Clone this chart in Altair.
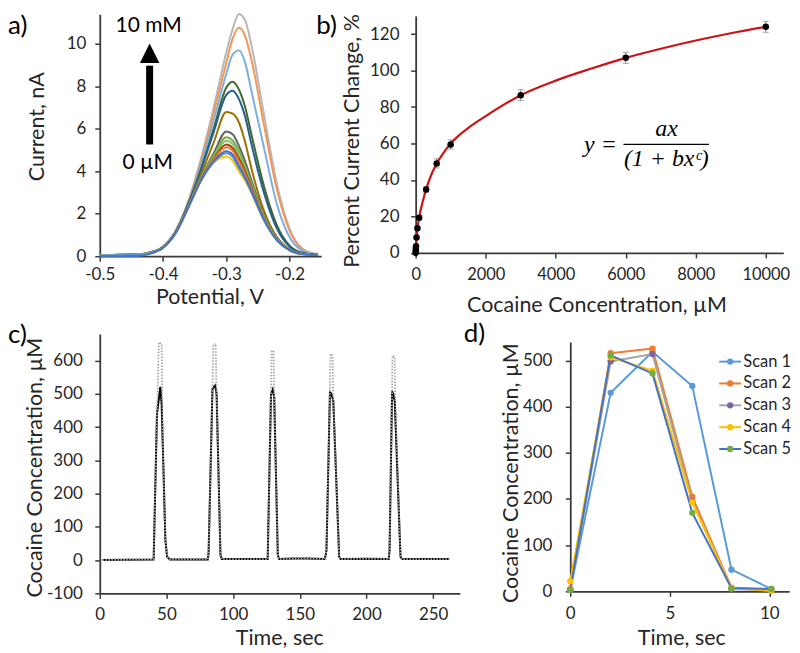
import altair as alt
import pandas as pd

FONT = "Lato"
TXT = "#262626"
AXC = "#3a3a3a"

# ---------------- Panel a: voltammograms ----------------
potential = [-0.50, -0.44, -0.42, -0.40, -0.38, -0.36, -0.34, -0.32, -0.30, -0.29,
             -0.28, -0.27, -0.26, -0.24, -0.22, -0.20, -0.18, -0.16, -0.155]
curve_names = ["s01", "s02", "s03", "s04", "s05", "s06", "s07",
               "s08", "s09", "s10", "s11", "s12", "s13", "s14"]
curve_colors = ["#B7B7B7", "#F1975A", "#7CAFDD", "#43682B", "#255E91", "#997300", "#636363",
                "#70AD47", "#8CC168", "#9E480E", "#ED7D31", "#FFC000", "#5B9BD5", "#4472C4"]
curve_currents = [
    [0.05, 0.08, 0.18, 0.45, 1.20, 2.60, 4.60, 7.00, 9.60, 10.70, 11.42, 11.10, 9.90, 6.60, 3.40, 1.30, 0.36, 0.12, 0.10],
    [0.05, 0.08, 0.18, 0.45, 1.19, 2.57, 4.50, 6.75, 9.12, 10.25, 10.77, 10.36, 9.22, 6.12, 3.14, 1.20, 0.33, 0.11, 0.10],
    [0.05, 0.08, 0.17, 0.44, 1.17, 2.52, 4.33, 6.40, 8.60, 9.50, 9.70, 9.10, 7.75, 5.05, 2.45, 0.90, 0.26, 0.09, 0.08],
    [0.05, 0.08, 0.17, 0.43, 1.15, 2.46, 4.10, 6.00, 7.95, 8.22, 7.85, 7.00, 5.70, 3.25, 1.45, 0.50, 0.16, 0.07, 0.07],
    [0.05, 0.08, 0.17, 0.43, 1.15, 2.44, 4.05, 5.85, 7.60, 7.80, 7.40, 6.55, 5.25, 2.95, 1.30, 0.45, 0.15, 0.07, 0.07],
    [0.05, 0.08, 0.16, 0.42, 1.13, 2.38, 3.85, 5.35, 6.80, 6.72, 6.30, 5.35, 4.10, 2.10, 0.90, 0.33, 0.12, 0.06, 0.06],
    [0.05, 0.08, 0.16, 0.41, 1.12, 2.35, 3.70, 4.85, 5.88, 5.75, 5.20, 4.45, 3.55, 1.90, 0.85, 0.30, 0.11, 0.05, 0.05],
    [0.05, 0.08, 0.15, 0.41, 1.11, 2.34, 3.68, 4.75, 5.60, 5.45, 4.95, 4.25, 3.40, 1.85, 0.82, 0.30, 0.11, 0.05, 0.05],
    [0.05, 0.08, 0.15, 0.41, 1.11, 2.33, 3.66, 4.68, 5.44, 5.28, 4.78, 4.12, 3.30, 1.80, 0.80, 0.29, 0.10, 0.05, 0.05],
    [0.05, 0.08, 0.15, 0.40, 1.11, 2.32, 3.63, 4.60, 5.26, 5.10, 4.60, 3.98, 3.22, 1.76, 0.79, 0.29, 0.10, 0.05, 0.05],
    [0.05, 0.07, 0.15, 0.40, 1.10, 2.32, 3.61, 4.55, 5.13, 4.97, 4.45, 3.85, 3.12, 1.73, 0.78, 0.28, 0.10, 0.05, 0.05],
    [0.05, 0.07, 0.15, 0.40, 1.10, 2.30, 3.55, 4.40, 4.70, 4.50, 4.00, 3.55, 2.95, 1.65, 0.75, 0.28, 0.10, 0.05, 0.05],
    [0.05, 0.07, 0.15, 0.40, 1.10, 2.30, 3.56, 4.43, 4.85, 4.68, 4.15, 3.63, 3.00, 1.68, 0.75, 0.28, 0.10, 0.05, 0.05],
    [0.00, 0.01, 0.12, 0.40, 1.10, 2.31, 3.58, 4.47, 4.94, 4.78, 4.25, 3.70, 3.05, 1.70, 0.76, 0.28, 0.10, 0.05, 0.05],
]

# ---------------- Panel b: calibration ----------------
conc = [0, 1, 5, 10, 25, 50, 100, 300, 600, 1000, 3000, 6000, 10000]
pct_change = [0, 1.0, 2.4, 3.6, 8.4, 13.5, 19.3, 34.8, 49.1, 59.5, 86.5, 107.0, 124.0]
pct_err = [0.3, 0.4, 0.5, 0.6, 0.8, 1.0, 1.2, 1.5, 2.5, 2.5, 3.0, 3.0, 3.0]
fit_x = [0, 20, 50, 100, 200, 300, 450, 600, 800, 1000, 1500, 2000, 3000, 4000,
         5000, 6000, 7000, 8000, 9000, 10000]
fit_y = [0, 6, 13, 19.5, 28, 35, 43, 49, 55, 60, 68.5, 75, 86.5, 94.5,
         101, 107, 112, 116.5, 120.5, 124]

# ---------------- Panel c: time trace ----------------
black_t = [2, 40.4, 42.9, 45.4, 46.4, 49.2, 50.5, 52.5, 70, 81.0, 81.6, 84.5, 86.5, 87.6, 90.5, 91.5,
           110, 125.9, 128.4, 129.7, 130.8, 133.5, 134.5, 145, 155, 168.8, 170.0, 172.6, 173.6, 175.1,
           179.5, 180.5, 200, 216.7, 217.3, 219.2, 220.0, 221.2, 225.5, 226.5, 262]
black_y = [0, 2, 440, 521, 470, 60, 10, 2, 2, 2, 20, 515, 525, 500, 15, 3,
           3, 3, 500, 513, 490, 15, 3, 5, 5, 3, 30, 505, 500, 480,
           10, 3, 4, 3, 30, 507, 500, 478, 10, 3, 3]
gray_t = [2, 40.4, 42.9, 44.3, 46.4, 47.3, 49.2, 50.5, 52.5, 70, 81.0, 81.6, 84.5, 85.1, 86.9, 87.6,
          90.5, 91.5, 110, 125.9, 128.4, 128.9, 130.3, 130.8, 133.5, 134.5, 145, 155, 168.8, 170.0,
          172.6, 173.0, 174.6, 175.1, 179.5, 180.5, 200, 216.7, 217.3, 219.2, 219.5, 221.1, 221.6,
          225.5, 226.5, 262]
gray_y = [0, 2, 440, 655, 650, 340, 60, 10, 2, 2, 2, 20, 515, 648, 650, 500,
          15, 3, 3, 3, 500, 630, 628, 490, 15, 3, 5, 5, 3, 30,
          505, 620, 615, 480, 10, 3, 4, 3, 30, 507, 615, 612, 470,
          10, 3, 3]

# ---------------- Panel d: scans ----------------
scan_t = [0, 2.03, 4.13, 6.13, 8.1, 10.1]
scan_names = ["Scan 1", "Scan 2", "Scan 3", "Scan 4", "Scan 5"]
scan_values = [
    [3, 430, 519, 445, 47, 5],
    [5, 516, 526, 205, 8, 2],
    [3, 498, 514, 195, 5, 2],
    [22, 507, 478, 193, 7, 1],
    [3, 511, 472, 170, 7, 5],
]
scan_line_colors = ["#5B9BD5", "#ED7D31", "#A5A5A5", "#FFC000", "#4472C4"]
scan_marker_colors = ["#5B9BD5", "#ED7D31", "#7E649E", "#FFC000", "#70AD47"]

MINUS_FIX = "replace(datum.label, '\u2212', '-')"


def axis(**kw):
    base = dict(domainColor=AXC, domainWidth=1.8, tickColor=AXC, tickWidth=1.5, tickSize=5,
                labelFont=FONT, labelFontSize=17, labelColor=TXT, labelFlush=False,
                labelOverlap=False, titleFont=FONT, titleFontSize=21.5, titleFontWeight="normal",
                titleColor=TXT, grid=False, titleAlign="center", titleBaseline="middle")
    base.update(kw)
    return alt.Axis(**base)


def label(text, x, y, size=26, align="left", baseline="top", font=FONT, style="normal", color="black"):
    return alt.Chart(pd.DataFrame({"t": [text]})).mark_text(
        align=align, baseline=baseline, font=font, fontSize=size, fontStyle=style, color=color
    ).encode(text="t:N", x=alt.value(x), y=alt.value(y))


# ---- panel a ----
rows = []
for name, vals in zip(curve_names, curve_currents):
    for v, c in zip(potential, vals):
        rows.append({"V": v, "I": c, "curve": name})
df_a = pd.DataFrame(rows)

lines_a = alt.Chart(df_a).mark_line(strokeWidth=2, interpolate="monotone").encode(
    x=alt.X("V:Q", scale=alt.Scale(domain=[-0.5, -0.15], nice=False, zero=False),
            axis=axis(values=[-0.5, -0.4, -0.3, -0.2], format=".1f", labelExpr=MINUS_FIX,
                      labelPadding=5, title="Potential, V", titleX=110, titleY=41)),
    y=alt.Y("I:Q", scale=alt.Scale(domain=[0, 11.4], range=[248, 5.5], nice=False, zero=False),
            axis=axis(values=[0, 2, 4, 6, 8, 10], labelPadding=9, title="Current, nA",
                      titleX=-62.5, titleY=117.7)),
    color=alt.Color("curve:N", scale=alt.Scale(domain=curve_names, range=curve_colors), legend=None),
)
one = pd.DataFrame({"k": [0]})
shaft = alt.Chart(one).mark_rule(strokeWidth=7, color="black").encode(
    x=alt.value(50), y=alt.value(136), y2=alt.value(57))
head = alt.Chart(one).mark_point(shape="M0,-1L1,1L-1,1Z", size=380, filled=True,
                                 color="black", opacity=1).encode(x=alt.value(50), y=alt.value(44.5))
panel_a = alt.layer(
    lines_a, shaft, head,
    label("10 mM", 49, 17, size=21, align="center", baseline="middle"),
    label("0 \u00b5M", 48, 155, size=21, align="center", baseline="middle"),
    label("a)", -92, 4),
).properties(width=222, height=248)

# ---- panel b ----
df_b = pd.DataFrame({"conc": conc, "pct": pct_change,
                     "lo": [p - e for p, e in zip(pct_change, pct_err)],
                     "hi": [p + e for p, e in zip(pct_change, pct_err)]})
df_fit = pd.DataFrame({"conc": fit_x, "pct": fit_y})
xb = alt.X("conc:Q", scale=alt.Scale(domain=[0, 10500], nice=False, zero=False),
           axis=axis(values=[0, 2000, 4000, 6000, 8000, 10000], format="d", labelPadding=8.8,
                     labelFontSize=16.5,
                     title="Cocaine Concentration, \u00b5M", titleX=181.3, titleY=53))
yb_scale = alt.Scale(domain=[0, 130], range=[244.7, 7.1], nice=False, zero=False)
yb = alt.Y("pct:Q", scale=yb_scale,
           axis=axis(values=[0, 20, 40, 60, 80, 100, 120], labelPadding=11.7,
                     title="Percent Current Change, %", titleX=-63.4, titleY=132))
err_rule = alt.Chart(df_b).mark_rule(color="#808080", strokeWidth=1).encode(
    x=xb, y=alt.Y("lo:Q", scale=yb_scale), y2="hi:Q")
err_cap_lo = alt.Chart(df_b).mark_tick(color="#808080", thickness=1, size=6, orient="horizontal").encode(
    x=xb, y=alt.Y("lo:Q", scale=yb_scale))
err_cap_hi = alt.Chart(df_b).mark_tick(color="#808080", thickness=1, size=6, orient="horizontal").encode(
    x=xb, y=alt.Y("hi:Q", scale=yb_scale))
fit_line = alt.Chart(df_fit).mark_line(color="#CC1414", strokeWidth=2.2, interpolate="monotone").encode(
    x=xb, y=yb)
pts_b = alt.Chart(df_b).mark_point(filled=True, color="black", size=42, opacity=1).encode(x=xb, y=yb)
frac_bar = alt.Chart(one).mark_rule(color="black", strokeWidth=1.2).encode(
    x=alt.value(208.3), x2=alt.value(294), y=alt.value(136))
SERIF = "Liberation Serif"
panel_b = alt.layer(
    err_rule, err_cap_lo, err_cap_hi, fit_line, pts_b, frac_bar,
    label("y =", 185.3, 137, size=24, align="center", baseline="middle", font=SERIF, style="italic"),
    label("ax", 251.6, 121, size=24, align="center", baseline="middle", font=SERIF, style="italic"),
    label("(1 + bx\u1d9c)", 251.3, 151, size=24, align="center", baseline="middle", font=SERIF, style="italic"),
    label("b)", -99.7, 4),
).properties(width=368.6, height=244.7)

# ---- panel c ----
df_black = pd.DataFrame({"t": black_t, "c": black_y})
df_gray = pd.DataFrame({"t": gray_t, "c": gray_y})
xc = alt.X("t:Q", scale=alt.Scale(domain=[0, 270], range=[0, 361], nice=False, zero=False),
           axis=axis(values=[0, 50, 100, 150, 200, 250], labelPadding=8.2,
                     title="Time, sec", titleX=180, titleY=45))
yc = alt.Y("c:Q", scale=alt.Scale(domain=[-100, 680], range=[264, 4], nice=False, zero=False),
           axis=axis(values=[-100, 0, 100, 200, 300, 400, 500, 600], labelExpr=MINUS_FIX,
                     labelPadding=12.5, title="Cocaine Concentration, \u00b5M", titleX=-64, titleY=137.5))
black_line = alt.Chart(df_black).mark_line(color="black", strokeWidth=2).encode(x=xc, y=yc)
gray_line = alt.Chart(df_gray).mark_line(color="#A8A8A8", strokeWidth=1.8, strokeDash=[1.5, 1.5]).encode(x=xc, y=yc)
panel_c = alt.layer(black_line, gray_line, label("c)", -92, -8)).properties(width=222, height=264)

# ---- panel d ----
rows = []
for name, vals in zip(scan_names, scan_values):
    for t, v in zip(scan_t, vals):
        rows.append({"t": t, "c": v, "scan": name})
df_d = pd.DataFrame(rows)
stroke_scale = alt.Scale(domain=scan_names, range=scan_line_colors)
fill_scale = alt.Scale(domain=scan_names, range=scan_marker_colors)
xd = alt.X("t:Q", scale=alt.Scale(domain=[0, 11], range=[155, 374.5], nice=False, zero=False),
           axis=axis(values=[0, 5, 10], labelPadding=9.2, title="Time, sec", titleX=266.3, titleY=47))
yd = alt.Y("c:Q", scale=alt.Scale(domain=[0, 540], range=[262, 12.1], nice=False, zero=False),
           axis=axis(values=[0, 100, 200, 300, 400, 500], labelPadding=13.4, offset=-155,
                     title="Cocaine Concentration, \u00b5M", titleX=-58.4, titleY=143))
lines_d = alt.Chart(df_d).mark_line(strokeWidth=2).encode(
    x=xd, y=yd, stroke=alt.Stroke("scan:N", scale=stroke_scale, legend=None))
pts_d = alt.Chart(df_d).mark_point(filled=True, size=40, opacity=1).encode(
    x=xd, y=yd, fill=alt.Fill("scan:N", scale=fill_scale, legend=None))

# legend (drawn as marks, stacked rows in pixel space)
df_leg = pd.DataFrame({"scan": scan_names, "row": list(range(len(scan_names)))})
leg_base = alt.Chart(df_leg).transform_calculate(py="31.7 + 21.9 * datum.row")
leg_y = alt.Y("py:Q", scale=None, axis=None)
leg_line = leg_base.mark_rule(strokeWidth=2).encode(
    x=alt.value(304.3), x2=alt.value(326.3), y=leg_y,
    stroke=alt.Stroke("scan:N", scale=stroke_scale, legend=None))
leg_pt = leg_base.mark_point(filled=True, size=40, opacity=1).encode(
    x=alt.value(315.3), y=leg_y, fill=alt.Fill("scan:N", scale=fill_scale, legend=None))
leg_txt = leg_base.mark_text(align="left", baseline="middle", font=FONT, fontSize=16.5, color=TXT).encode(
    x=alt.value(328.5), y=leg_y, text="scan:N")

panel_d = alt.layer(lines_d, pts_d, leg_line, leg_pt, leg_txt,
                    label("d)", 48.3, -9)).properties(width=374.5, height=262)

chart = alt.concat(
    panel_a, panel_b, panel_c, panel_d,
    columns=2, spacing={"row": 74, "column": 94.7}, align="each", bounds="flush",
).properties(padding=0).configure_view(stroke=None)

chart.save("out.html", embed_options={"renderer": "svg", "actions": False})
